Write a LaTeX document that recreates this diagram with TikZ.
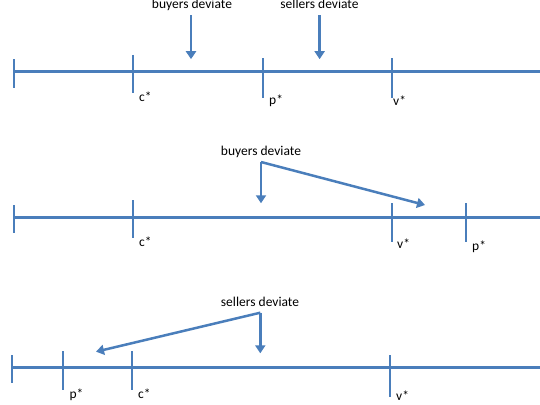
\documentclass[tikz,border=0pt]{standalone}
\usepackage{fontspec}
\setmainfont{Carlito}
\usetikzlibrary{arrows.meta}
\definecolor{lineblue}{HTML}{4A7EBB}
\begin{document}
\begin{tikzpicture}[x=1pt,y=-1pt,
  axisline/.style={draw=lineblue,line width=3.3pt},
  tickmark/.style={draw=lineblue,line width=1.7pt},
  arr/.style={draw=lineblue,line width=2.5pt,-{Triangle[width=10pt,length=8pt]}},
  lbl/.style={font=\fontsize{13.5}{16}\selectfont,inner sep=0pt,anchor=base west},
  captext/.style={font=\fontsize{13.5}{16}\selectfont,inner sep=0pt,anchor=base}]
\useasboundingbox (0,0) rectangle (540,404);

% ---------- panel 1 ----------
\coordinate (a1s) at (13.7,71.7);
\coordinate (a1e) at (540,71.7);
\draw[axisline] (a1s) -- (a1e);
\coordinate (t1l) at (13.7,59); \coordinate (b1l) at (13.7,88);
\coordinate (t1c) at (132.7,55); \coordinate (b1c) at (132.7,93);
\coordinate (t1p) at (263,58); \coordinate (b1p) at (263,98);
\coordinate (t1v) at (392,58); \coordinate (b1v) at (392,98);
\draw[tickmark] (t1l) -- (b1l);
\draw[tickmark] (t1c) -- (b1c);
\draw[tickmark] (t1p) -- (b1p);
\draw[tickmark] (t1v) -- (b1v);
\node[lbl] (c1) at (139,101.7) {c*};
\node[lbl] (p1) at (269,104) {p*};
\node[lbl] (v1) at (393,105) {v*};
\node[captext] (bd1) at (192,8.6) {buyers deviate};
\node[captext] (sd1) at (319.5,8.6) {sellers deviate};
\coordinate (bd1s) at (191,15.5); \coordinate (bd1e) at (191,59.2);
\coordinate (sd1s) at (319.6,15.5); \coordinate (sd1e) at (319.6,59.2);
\draw[arr] (bd1s) -- (bd1e);
\draw[arr] (sd1s) -- (sd1e);

% ---------- panel 2 ----------
\coordinate (a2s) at (13.7,217.2);
\coordinate (a2e) at (540,217.2);
\draw[axisline] (a2s) -- (a2e);
\coordinate (t2l) at (13.7,205); \coordinate (b2l) at (13.7,233);
\coordinate (t2c) at (132.7,200); \coordinate (b2c) at (132.7,238);
\coordinate (t2v) at (391.7,203); \coordinate (b2v) at (391.7,242);
\coordinate (t2p) at (466,203); \coordinate (b2p) at (466,242);
\draw[tickmark] (t2l) -- (b2l);
\draw[tickmark] (t2c) -- (b2c);
\draw[tickmark] (t2v) -- (b2v);
\draw[tickmark] (t2p) -- (b2p);
\node[lbl] (c2) at (139,246.7) {c*};
\node[lbl] (v2) at (397,248) {v*};
\node[lbl] (p2) at (472,250) {p*};
\node[captext] (bd2) at (261,155.5) {buyers deviate};
\coordinate (k2) at (261,162);
\coordinate (k2d) at (261,203.3);
\coordinate (k2r) at (425,205);
\draw[arr] (k2) -- (k2d);
\draw[arr] (k2) -- (k2r);

% ---------- panel 3 ----------
\coordinate (a3s) at (12.3,367.7);
\coordinate (a3e) at (540,367.7);
\draw[axisline] (a3s) -- (a3e);
\coordinate (t3l) at (12.3,355); \coordinate (b3l) at (12.3,383);
\coordinate (t3p) at (63.3,351); \coordinate (b3p) at (63.3,390);
\coordinate (t3c) at (132.3,351); \coordinate (b3c) at (132.3,390);
\coordinate (t3v) at (390,355); \coordinate (b3v) at (390,397);
\draw[tickmark] (t3l) -- (b3l);
\draw[tickmark] (t3p) -- (b3p);
\draw[tickmark] (t3c) -- (b3c);
\draw[tickmark] (t3v) -- (b3v);
\node[lbl] (p3) at (69.3,398) {p*};
\node[lbl] (c3) at (138,398) {c*};
\node[lbl] (v3) at (396,400.5) {v*};
\node[captext] (sd3) at (260,306.5) {sellers deviate};
\coordinate (k3) at (260.3,312.7);
\coordinate (k3d) at (260.3,353.3);
\coordinate (k3l) at (96,351.7);
\draw[arr] (k3) -- (k3d);
\draw[arr] (k3) -- (k3l);
\end{tikzpicture}
\end{document}
